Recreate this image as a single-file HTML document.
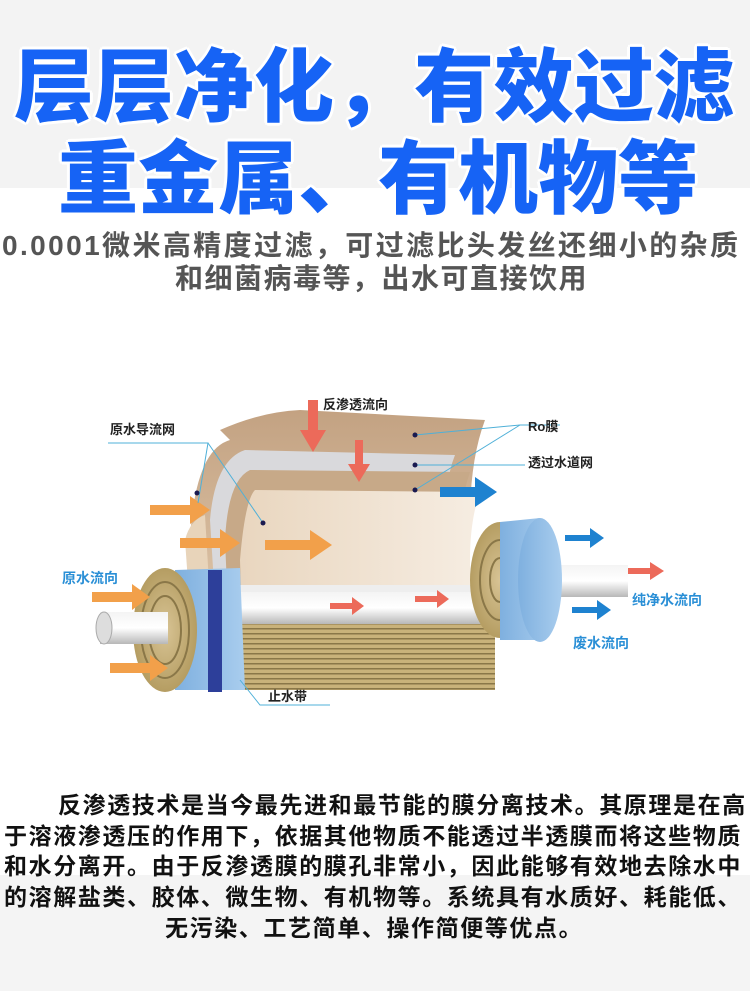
<!DOCTYPE html>
<html><head><meta charset="utf-8">
<style>
html,body{margin:0;padding:0}
body{width:750px;height:991px;position:relative;overflow:hidden;background:#fff;font-family:"Liberation Sans","Noto Sans CJK SC",sans-serif}
.t{position:absolute;white-space:nowrap}
.h{font-size:80px;font-weight:900;color:#1663f5;text-shadow:0 0 3px #fff,3px 0 0 #fff,-3px 0 0 #fff,0 3px 0 #fff,0 -3px 0 #fff,2px 2px 0 #fff,-2px -2px 0 #fff,2px -2px 0 #fff,-2px 2px 0 #fff;line-height:1}
.s{font-size:28px;font-weight:700;color:#555;line-height:1}
.p{font-size:23px;font-weight:700;color:#111;line-height:1;letter-spacing:1.6px}
.l{font-size:13px;font-weight:700;color:#222;line-height:1}
.b{font-size:14px;font-weight:700;color:#2a8fd6;line-height:1}
</style></head><body>
<div style="position:absolute;left:0;top:0;width:750px;height:188px;background:#f3f3f3"></div>
<div style="position:absolute;left:0;top:875px;width:750px;height:116px;background:#f4f4f4"></div>
<div class="t h" style="left:14px;top:48px">层层净化，有效过滤</div>
<div class="t h" style="left:58px;top:140px">重金属、有机物等</div>
<div class="t s" style="left:2px;top:232px;letter-spacing:2.4px">0.0001微米高精度过滤，可过滤比头发丝还细小的杂质</div>
<div class="t s" style="left:175px;top:265px;letter-spacing:1.5px">和细菌病毒等，出水可直接饮用</div>

<svg style="position:absolute;left:0;top:360px" width="750" height="400" viewBox="0 360 750 400">
<defs>
<linearGradient id="brn" x1="0" y1="0" x2="0" y2="1"><stop offset="0" stop-color="#c3a282"/><stop offset="1" stop-color="#dcc3a6"/></linearGradient>
<linearGradient id="crm" x1="0" y1="0" x2="1" y2="0"><stop offset="0" stop-color="#e9d6bf"/><stop offset="1" stop-color="#f6ede2"/></linearGradient>
<linearGradient id="pipe" x1="0" y1="0" x2="0" y2="1"><stop offset="0" stop-color="#f4f4f4"/><stop offset=".5" stop-color="#ffffff"/><stop offset="1" stop-color="#b8b8b8"/></linearGradient>
<linearGradient id="band" x1="0" y1="0" x2="1" y2="0"><stop offset="0" stop-color="#7fb0df"/><stop offset="1" stop-color="#a9cdee"/></linearGradient>
<pattern id="str" width="6" height="5" patternUnits="userSpaceOnUse"><rect width="6" height="5" fill="#c9b27a"/><rect y="3" width="6" height="1.5" fill="#8a7748"/></pattern>
<radialGradient id="roll"><stop offset="0" stop-color="#d8c495"/><stop offset="1" stop-color="#b59d62"/></radialGradient>
</defs>
<path d="M190 540 Q195 450 230 440 L220 430 Q260 412 300 410 L485 420 Q470 460 470 520 L470 600 L210 600 Z" fill="url(#brn)"/>
<path d="M210 520 Q215 460 245 450 L455 455 Q445 480 450 500 L450 600 L215 600 Z" fill="#d9d9dc"/>
<path d="M225 540 Q228 480 250 470 L470 472 Q460 500 460 540 L460 610 L228 610 Z" fill="#c7a988"/>
<path d="M185 540 Q190 520 205 515 L210 600 L190 610 Z" fill="#e8d4ba"/>
<path d="M240 560 Q245 500 255 490 L480 492 Q470 520 470 560 L470 620 L242 620 Z" fill="url(#crm)"/>
<rect x="240" y="585" width="255" height="105" fill="url(#str)"/>
<rect x="240" y="585" width="255" height="35" fill="#eee"/>
<rect x="240" y="592" width="260" height="32" fill="url(#pipe)"/>
<rect x="560" y="565" width="68" height="32" fill="url(#pipe)"/>
<ellipse cx="500" cy="580" rx="30" ry="58" fill="url(#roll)"/>
<ellipse cx="500" cy="580" rx="20" ry="40" fill="none" stroke="#8a7748" stroke-width="2"/>
<ellipse cx="500" cy="580" rx="10" ry="22" fill="none" stroke="#8a7748" stroke-width="2"/>
<path d="M500 522 L540 518 Q565 580 540 640 L500 640 Z" fill="url(#band)"/>
<ellipse cx="540" cy="580" rx="22" ry="62" fill="url(#band)"/>
<path d="M175 570 L240 568 L245 690 L175 690 Z" fill="url(#band)"/>
<rect x="208" y="570" width="14" height="122" fill="#2d3f9a"/>
<ellipse cx="165" cy="630" rx="32" ry="62" fill="url(#roll)"/>
<ellipse cx="165" cy="630" rx="24" ry="48" fill="none" stroke="#8a7748" stroke-width="2"/>
<ellipse cx="165" cy="630" rx="16" ry="34" fill="none" stroke="#8a7748" stroke-width="2"/>
<rect x="100" y="612" width="68" height="32" fill="url(#pipe)"/>
<ellipse cx="104" cy="628" rx="8" ry="16" fill="#ddd" stroke="#aaa"/>
<g fill="#f2a04a">
<path d="M92 592h40v-8l18 13-18 13v-8h-40z"/>
<path d="M110 663h40v-8l18 13-18 13v-8h-40z"/>
<path d="M150 505h40v-9l20 14-20 14v-9h-40z"/>
<path d="M180 538h40v-9l20 14-20 14v-9h-40z"/>
<path d="M265 540h45v-10l22 15-22 15v-10h-45z"/>
</g>
<g fill="#ec6a5a">
<path d="M330 603h22v-6l12 9-12 9v-6h-22z"/>
<path d="M415 596h22v-6l12 9-12 9v-6h-22z"/>
<path d="M628 568h22v-6l14 9-14 9v-6h-22z"/>
<path d="M308 400h10v30h8l-13 22-13-22h8z"/>
<path d="M355 440h8v24h7l-11 18-11-18h7z"/>
</g>
<g fill="#1e82d0">
<path d="M440 487h35v-10l22 15-22 15v-10h-35z"/>
<path d="M565 535h25v-7l14 10-14 10v-7h-25z"/>
<path d="M572 607h25v-7l14 10-14 10v-7h-25z"/>
</g>
<g stroke="#4fb0d8" stroke-width="1" fill="none">
<path d="M108 443h100l-10 60"/><path d="M208 443l55 80"/>
<path d="M415 435l105-10h40"/><path d="M415 490l105-65"/>
<path d="M415 465h110"/>
<path d="M240 680l20 25h70"/>
</g>
<g fill="#1a1a50"><circle cx="197" cy="493" r="2.5"/><circle cx="263" cy="523" r="2.5"/><circle cx="415" cy="435" r="2.5"/><circle cx="415" cy="465" r="2.5"/><circle cx="415" cy="490" r="2.5"/></g>
</svg>
<div class="t l" style="left:323px;top:398px">反渗透流向</div>
<div class="t l" style="left:110px;top:423px">原水导流网</div>
<div class="t l" style="left:528px;top:420px">Ro膜</div>
<div class="t l" style="left:528px;top:456px">透过水道网</div>
<div class="t l" style="left:268px;top:690px">止水带</div>
<div class="t b" style="left:62px;top:571px">原水流向</div>
<div class="t b" style="left:632px;top:593px">纯净水流向</div>
<div class="t b" style="left:573px;top:636px">废水流向</div>

<div class="t p" style="left:58px;top:794px">反渗透技术是当今最先进和最节能的膜分离技术。其原理是在高</div>
<div class="t p" style="left:4px;top:825px">于溶液渗透压的作用下，依据其他物质不能透过半透膜而将这些物质</div>
<div class="t p" style="left:4px;top:855px">和水分离开。由于反渗透膜的膜孔非常小，因此能够有效地去除水中</div>
<div class="t p" style="left:4px;top:886px">的溶解盐类、胶体、微生物、有机物等。系统具有水质好、耗能低、</div>
<div class="t p" style="left:165px;top:917px">无污染、工艺简单、操作简便等优点。</div>
</body></html>
